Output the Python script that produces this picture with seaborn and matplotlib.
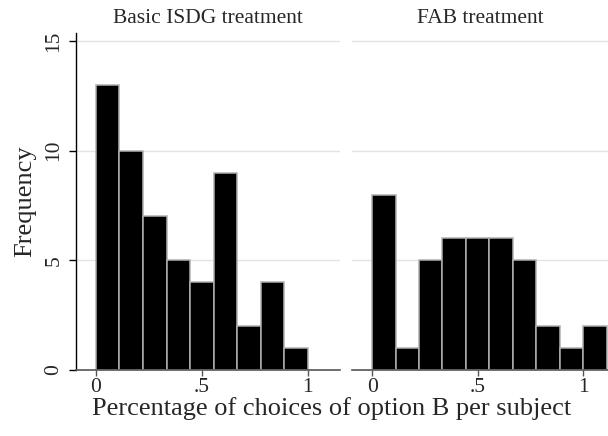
import numpy as np
import pandas as pd
import matplotlib
matplotlib.use("Agg")
import matplotlib.pyplot as plt
import seaborn as sns

# histogram counts (bin width 1/9)
basic_counts = [13, 10, 7, 5, 4, 9, 2, 4, 1]
fab_counts = [8, 1, 5, 6, 6, 6, 5, 2, 1, 2]
panel_titles = ["Basic ISDG treatment", "FAB treatment"]
x_ticks = [0, 0.5, 1]
x_ticklabels = ["0", ".5", "1"]
y_ticks = [0, 5, 10, 15]

sns.set_style("white")
plt.rcParams["font.family"] = ["Liberation Serif", "DejaVu Serif"]

fig = plt.figure(figsize=(6.08, 4.36), dpi=100)
ax1 = fig.add_axes([0.125, 0.1514, 0.434, 0.773])
ax2 = fig.add_axes([0.579, 0.1514, 0.421, 0.773])

for ax, counts, title, xlim in [(ax1, basic_counts, panel_titles[0], (-0.094, 1.151)),
                                (ax2, fab_counts, panel_titles[1], (-0.095, 1.118))]:
    n = len(counts)
    edges = np.arange(n + 1) / 9
    df = pd.DataFrame({"share": (edges[:-1] + edges[1:]) / 2, "freq": counts})
    for y in [5, 10, 15]:
        ax.axhline(y, color="#e3e3e3", lw=1, zorder=0)
    sns.histplot(data=df, x="share", weights="freq", bins=list(edges), ax=ax,
                 color="black", alpha=1, edgecolor="#b0b0b0", linewidth=1.1, zorder=2)
    ax.set_xlim(*xlim)
    ax.set_ylim(0, 15.37)
    ax.set_xticks(x_ticks)
    ax.set_xticklabels(x_ticklabels, fontsize=15.5)
    ax.tick_params(axis="x", direction="out", length=4, width=1, color="#555555", pad=2, bottom=True)
    ax.set_title(title, fontsize=15.5, pad=7)
    ax.set_xlabel("")
    ax.set_ylabel("")
    for s in ["top", "right"]:
        ax.spines[s].set_visible(False)
    ax.spines["bottom"].set_color("#555555")
    ax.spines["bottom"].set_linewidth(1.2)
    ax.spines["bottom"].set_zorder(3)

ax1.set_yticks(y_ticks)
ax1.set_yticklabels([str(v) for v in y_ticks], fontsize=15.5, rotation=90, va="center")
ax1.tick_params(axis="y", direction="out", length=5, width=1, color="black", left=True, pad=4)
ax1.spines["left"].set_color("black")
ax1.spines["left"].set_linewidth(1)
ax1.set_ylabel("Frequency", fontsize=19, labelpad=6)

ax2.spines["left"].set_visible(False)
ax2.set_yticks([])

fig.text(0.545, 0.062, "Percentage of choices of option B per subject", ha="center", va="center", fontsize=19)

fig.savefig("out.png", dpi=100)
